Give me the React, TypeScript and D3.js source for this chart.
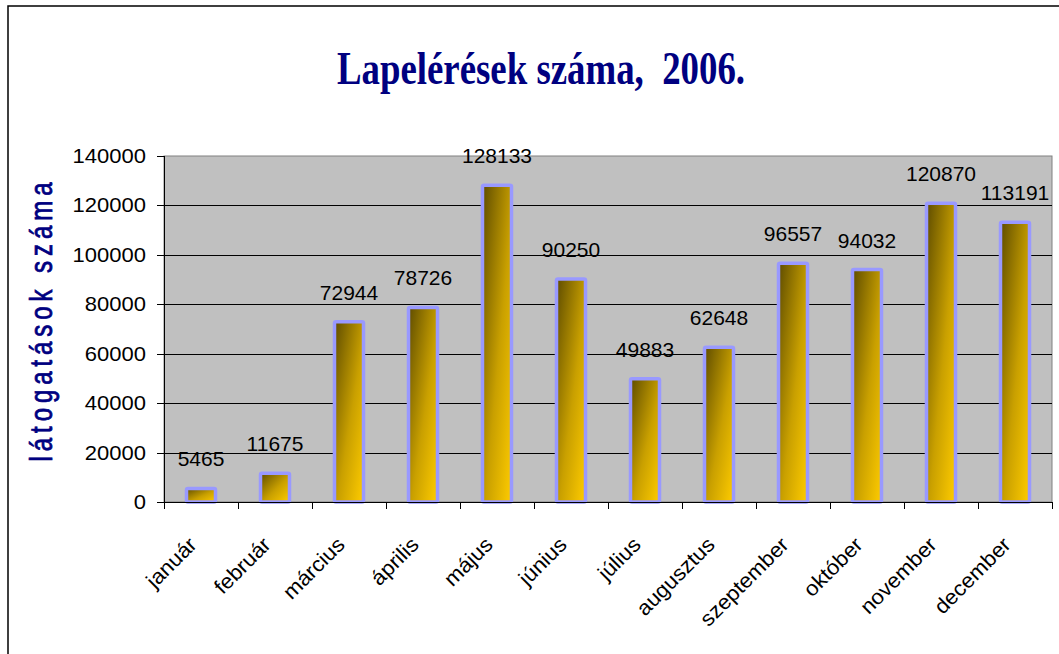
import React from 'react';
import * as d3 from 'd3';

const months = [
  'január', 'február', 'március', 'április', 'május', 'június',
  'július', 'augusztus', 'szeptember', 'október', 'november', 'december',
];
const visits = [5465, 11675, 72944, 78726, 128133, 90250, 49883, 62648, 96557, 94032, 120870, 113191];
const yTicks = [0, 20000, 40000, 60000, 80000, 100000, 120000, 140000];

const W = 1059;
const H = 654;
const plot = { left: 164, right: 1052, top: 156, bottom: 502 };

const App = () => {
  const x = d3.scaleBand<string>().domain(months).range([plot.left, plot.right]).padding(0);
  const y = d3.scaleLinear().domain([0, 140000]).range([plot.bottom, plot.top]);
  const barW = 29;
  const sans = 'Liberation Sans, Arial, sans-serif';

  return (
    <svg width={W} height={H} style={{ position: 'absolute', left: 0, top: 0, display: 'block', background: '#fff' }}>
      <defs>
        <linearGradient id="barFill" x1="0" y1="0" x2="1" y2="1">
          <stop offset="0" stopColor="#5e4c00" />
          <stop offset="0.55" stopColor="#c9a000" />
          <stop offset="1" stopColor="#ffcc00" />
        </linearGradient>
      </defs>

      {/* outer frame */}
      <rect x={8} y={6} width={W + 20} height={H + 20} fill="#fff" stroke="#000" strokeWidth={1.5} />

      {/* title */}
      <text x={541} y={84} textAnchor="middle" fontFamily="Liberation Serif, Times New Roman, serif"
        fontWeight="bold" fontSize={46} fill="#000080" textLength={408} lengthAdjust="spacingAndGlyphs"
        style={{ whiteSpace: 'pre' }}>
        {'Lapelérések száma,  2006.'}
      </text>

      {/* plot background */}
      <rect x={plot.left} y={plot.top} width={plot.right - plot.left} height={plot.bottom - plot.top}
        fill="#c0c0c0" stroke="#808080" strokeWidth={1} />

      {/* grid lines */}
      {yTicks.slice(1, -1).map(t => (
        <line key={t} x1={plot.left} x2={plot.right} y1={Math.round(y(t)) + 0.5} y2={Math.round(y(t)) + 0.5}
          stroke="#000" strokeWidth={1} />
      ))}

      {/* bars */}
      {months.map((m, i) => {
        const cx = (x(m) ?? 0) + x.bandwidth() / 2;
        return (
          <rect key={m} x={cx - barW / 2} y={y(visits[i])} width={barW} height={y(0) - y(visits[i])}
            fill="url(#barFill)" stroke="#9999ff" strokeWidth={3.5} rx={1.5} />
        );
      })}

      {/* y axis */}
      <line x1={plot.left + 0.5} x2={plot.left + 0.5} y1={plot.top} y2={plot.bottom} stroke="#000" />
      {yTicks.map(t => (
        <g key={t}>
          <line x1={plot.left - 7} x2={plot.left} y1={Math.round(y(t)) + 0.5} y2={Math.round(y(t)) + 0.5} stroke="#000" />
          <text transform={`translate(146, ${y(t) + 7}) scale(1.1, 1)`} textAnchor="end"
            fontFamily={sans} fontSize={20} fill="#000">{t}</text>
        </g>
      ))}

      {/* x axis */}
      <line x1={plot.left} x2={plot.right} y1={plot.bottom + 0.5} y2={plot.bottom + 0.5} stroke="#000" />
      {[...months.map(m => x(m) ?? 0), plot.right].map((bx, i) => (
        <line key={i} x1={Math.round(bx) + 0.5} x2={Math.round(bx) + 0.5} y1={plot.bottom} y2={plot.bottom + 7} stroke="#000" />
      ))}
      {months.map(m => {
        const cx = (x(m) ?? 0) + x.bandwidth() / 2;
        return (
          <text key={m} transform={`translate(${cx - 3}, 546) rotate(-45) scale(1.05, 1)`} textAnchor="end"
            fontFamily={sans} fontSize={21} fill="#000">{m}</text>
        );
      })}

      {/* value labels */}
      {months.map((m, i) => {
        const cx = (x(m) ?? 0) + x.bandwidth() / 2;
        return (
          <text key={m} x={cx} y={y(visits[i]) - 22} textAnchor="middle"
            fontFamily={sans} fontSize={21} fill="#000">{visits[i]}</text>
        );
      })}

      {/* y axis title */}
      <text transform="translate(52, 322) rotate(-90) scale(1, 1.3)" textAnchor="middle" fontFamily={sans}
        fontSize={24} fill="#000080" stroke="#000080" strokeWidth={0.6} textLength={279} lengthAdjust="spacing">
        látogatások száma
      </text>
    </svg>
  );
};

export default App;
